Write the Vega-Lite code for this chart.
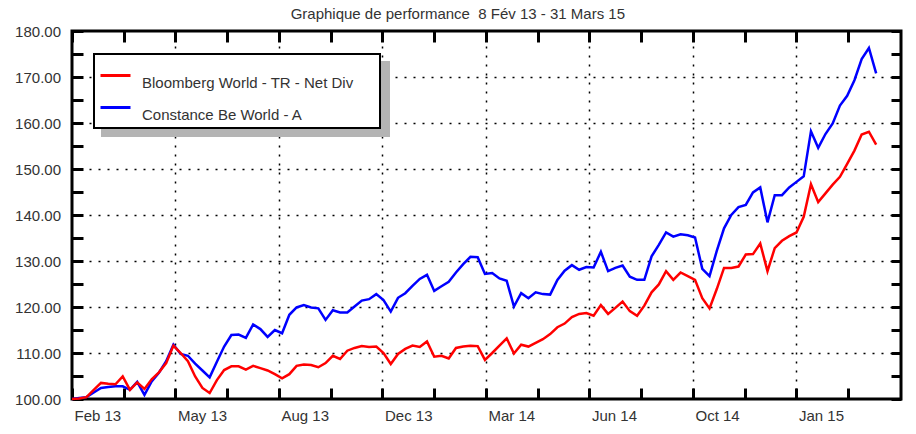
{
  "$schema": "https://vega.github.io/schema/vega-lite/v6.json",
  "width": 829,
  "height": 368,
  "padding": {"left": 14, "top": 7, "right": 5, "bottom": 5},
  "background": "white",
  "title": {
    "text": "Graphique de performance\u00a0 8 Fév 13 - 31 Mars 15",
    "font": "Liberation Sans",
    "fontSize": 15,
    "fontWeight": "normal",
    "color": "#333333",
    "anchor": "middle",
    "frame": "bounds",
    "offset": 2
  },
  "data": {"values": [
    {"date": "2013-02-08", "Bloomberg World - TR - Net Div": 100.0, "Constance Be World - A": 100.0},
    {"date": "2013-02-15", "Bloomberg World - TR - Net Div": 100.1, "Constance Be World - A": 100.2},
    {"date": "2013-02-22", "Bloomberg World - TR - Net Div": 100.4, "Constance Be World - A": 100.4},
    {"date": "2013-03-01", "Bloomberg World - TR - Net Div": 102.0, "Constance Be World - A": 101.4},
    {"date": "2013-03-08", "Bloomberg World - TR - Net Div": 103.5, "Constance Be World - A": 102.4},
    {"date": "2013-03-15", "Bloomberg World - TR - Net Div": 103.3, "Constance Be World - A": 102.6},
    {"date": "2013-03-22", "Bloomberg World - TR - Net Div": 103.2, "Constance Be World - A": 102.75},
    {"date": "2013-03-29", "Bloomberg World - TR - Net Div": 104.9, "Constance Be World - A": 102.75},
    {"date": "2013-04-05", "Bloomberg World - TR - Net Div": 102.0, "Constance Be World - A": 102.0},
    {"date": "2013-04-12", "Bloomberg World - TR - Net Div": 103.6, "Constance Be World - A": 103.7},
    {"date": "2013-04-19", "Bloomberg World - TR - Net Div": 102.2, "Constance Be World - A": 100.9},
    {"date": "2013-04-26", "Bloomberg World - TR - Net Div": 104.3, "Constance Be World - A": 103.8},
    {"date": "2013-05-03", "Bloomberg World - TR - Net Div": 105.8, "Constance Be World - A": 105.7},
    {"date": "2013-05-10", "Bloomberg World - TR - Net Div": 107.8, "Constance Be World - A": 108.2},
    {"date": "2013-05-17", "Bloomberg World - TR - Net Div": 111.6, "Constance Be World - A": 111.8},
    {"date": "2013-05-24", "Bloomberg World - TR - Net Div": 110.0, "Constance Be World - A": 109.8},
    {"date": "2013-05-31", "Bloomberg World - TR - Net Div": 108.2, "Constance Be World - A": 109.4},
    {"date": "2013-06-07", "Bloomberg World - TR - Net Div": 104.9, "Constance Be World - A": 107.7},
    {"date": "2013-06-14", "Bloomberg World - TR - Net Div": 102.4, "Constance Be World - A": 106.2},
    {"date": "2013-06-21", "Bloomberg World - TR - Net Div": 101.3, "Constance Be World - A": 104.7},
    {"date": "2013-06-28", "Bloomberg World - TR - Net Div": 104.1, "Constance Be World - A": 108.1},
    {"date": "2013-07-05", "Bloomberg World - TR - Net Div": 106.3, "Constance Be World - A": 111.4},
    {"date": "2013-07-12", "Bloomberg World - TR - Net Div": 107.1, "Constance Be World - A": 113.9},
    {"date": "2013-07-19", "Bloomberg World - TR - Net Div": 107.1, "Constance Be World - A": 114.0},
    {"date": "2013-07-26", "Bloomberg World - TR - Net Div": 106.4, "Constance Be World - A": 113.3},
    {"date": "2013-08-02", "Bloomberg World - TR - Net Div": 107.2, "Constance Be World - A": 116.2},
    {"date": "2013-08-09", "Bloomberg World - TR - Net Div": 106.7, "Constance Be World - A": 115.2},
    {"date": "2013-08-16", "Bloomberg World - TR - Net Div": 106.2, "Constance Be World - A": 113.5},
    {"date": "2013-08-23", "Bloomberg World - TR - Net Div": 105.4, "Constance Be World - A": 115.0},
    {"date": "2013-08-30", "Bloomberg World - TR - Net Div": 104.5, "Constance Be World - A": 114.3},
    {"date": "2013-09-06", "Bloomberg World - TR - Net Div": 105.4, "Constance Be World - A": 118.3},
    {"date": "2013-09-13", "Bloomberg World - TR - Net Div": 107.2, "Constance Be World - A": 119.9},
    {"date": "2013-09-20", "Bloomberg World - TR - Net Div": 107.5, "Constance Be World - A": 120.4},
    {"date": "2013-09-27", "Bloomberg World - TR - Net Div": 107.4, "Constance Be World - A": 119.9},
    {"date": "2013-10-04", "Bloomberg World - TR - Net Div": 106.9, "Constance Be World - A": 119.7},
    {"date": "2013-10-11", "Bloomberg World - TR - Net Div": 107.8, "Constance Be World - A": 117.2},
    {"date": "2013-10-18", "Bloomberg World - TR - Net Div": 109.4, "Constance Be World - A": 119.3},
    {"date": "2013-10-25", "Bloomberg World - TR - Net Div": 108.7, "Constance Be World - A": 118.8},
    {"date": "2013-11-01", "Bloomberg World - TR - Net Div": 110.5, "Constance Be World - A": 118.8},
    {"date": "2013-11-08", "Bloomberg World - TR - Net Div": 111.1, "Constance Be World - A": 120.1},
    {"date": "2013-11-15", "Bloomberg World - TR - Net Div": 111.5, "Constance Be World - A": 121.4},
    {"date": "2013-11-22", "Bloomberg World - TR - Net Div": 111.3, "Constance Be World - A": 121.7},
    {"date": "2013-11-29", "Bloomberg World - TR - Net Div": 111.4, "Constance Be World - A": 122.8},
    {"date": "2013-12-06", "Bloomberg World - TR - Net Div": 110.0, "Constance Be World - A": 121.5},
    {"date": "2013-12-13", "Bloomberg World - TR - Net Div": 107.6, "Constance Be World - A": 119.0},
    {"date": "2013-12-20", "Bloomberg World - TR - Net Div": 109.8, "Constance Be World - A": 122.0},
    {"date": "2013-12-27", "Bloomberg World - TR - Net Div": 110.9, "Constance Be World - A": 123.0},
    {"date": "2014-01-03", "Bloomberg World - TR - Net Div": 111.6, "Constance Be World - A": 124.6},
    {"date": "2014-01-10", "Bloomberg World - TR - Net Div": 111.3, "Constance Be World - A": 126.1},
    {"date": "2014-01-17", "Bloomberg World - TR - Net Div": 112.5, "Constance Be World - A": 127.0},
    {"date": "2014-01-24", "Bloomberg World - TR - Net Div": 109.2, "Constance Be World - A": 123.5},
    {"date": "2014-01-31", "Bloomberg World - TR - Net Div": 109.4, "Constance Be World - A": 124.5},
    {"date": "2014-02-07", "Bloomberg World - TR - Net Div": 108.8, "Constance Be World - A": 125.5},
    {"date": "2014-02-14", "Bloomberg World - TR - Net Div": 111.1, "Constance Be World - A": 127.5},
    {"date": "2014-02-21", "Bloomberg World - TR - Net Div": 111.4, "Constance Be World - A": 129.3},
    {"date": "2014-02-28", "Bloomberg World - TR - Net Div": 111.6, "Constance Be World - A": 130.9},
    {"date": "2014-03-07", "Bloomberg World - TR - Net Div": 111.5, "Constance Be World - A": 130.8},
    {"date": "2014-03-14", "Bloomberg World - TR - Net Div": 108.5, "Constance Be World - A": 127.2},
    {"date": "2014-03-21", "Bloomberg World - TR - Net Div": 110.0, "Constance Be World - A": 127.4},
    {"date": "2014-03-28", "Bloomberg World - TR - Net Div": 111.6, "Constance Be World - A": 126.2},
    {"date": "2014-04-04", "Bloomberg World - TR - Net Div": 113.2, "Constance Be World - A": 125.7},
    {"date": "2014-04-11", "Bloomberg World - TR - Net Div": 109.9, "Constance Be World - A": 120.1},
    {"date": "2014-04-18", "Bloomberg World - TR - Net Div": 111.8, "Constance Be World - A": 123.0},
    {"date": "2014-04-25", "Bloomberg World - TR - Net Div": 111.4, "Constance Be World - A": 121.9},
    {"date": "2014-05-02", "Bloomberg World - TR - Net Div": 112.2, "Constance Be World - A": 123.2},
    {"date": "2014-05-09", "Bloomberg World - TR - Net Div": 113.0, "Constance Be World - A": 122.8},
    {"date": "2014-05-16", "Bloomberg World - TR - Net Div": 114.1, "Constance Be World - A": 122.7},
    {"date": "2014-05-23", "Bloomberg World - TR - Net Div": 115.6, "Constance Be World - A": 125.9},
    {"date": "2014-05-30", "Bloomberg World - TR - Net Div": 116.4, "Constance Be World - A": 127.9},
    {"date": "2014-06-06", "Bloomberg World - TR - Net Div": 117.8, "Constance Be World - A": 129.1},
    {"date": "2014-06-13", "Bloomberg World - TR - Net Div": 118.5, "Constance Be World - A": 128.1},
    {"date": "2014-06-20", "Bloomberg World - TR - Net Div": 118.7, "Constance Be World - A": 128.7},
    {"date": "2014-06-27", "Bloomberg World - TR - Net Div": 118.1, "Constance Be World - A": 128.6},
    {"date": "2014-07-04", "Bloomberg World - TR - Net Div": 120.4, "Constance Be World - A": 132.0},
    {"date": "2014-07-11", "Bloomberg World - TR - Net Div": 118.5, "Constance Be World - A": 127.8},
    {"date": "2014-07-18", "Bloomberg World - TR - Net Div": 119.8, "Constance Be World - A": 128.5},
    {"date": "2014-07-25", "Bloomberg World - TR - Net Div": 121.2, "Constance Be World - A": 129.0},
    {"date": "2014-08-01", "Bloomberg World - TR - Net Div": 119.1, "Constance Be World - A": 126.6},
    {"date": "2014-08-08", "Bloomberg World - TR - Net Div": 118.1, "Constance Be World - A": 125.9},
    {"date": "2014-08-15", "Bloomberg World - TR - Net Div": 120.3, "Constance Be World - A": 125.9},
    {"date": "2014-08-22", "Bloomberg World - TR - Net Div": 123.2, "Constance Be World - A": 131.0},
    {"date": "2014-08-29", "Bloomberg World - TR - Net Div": 124.9, "Constance Be World - A": 133.5},
    {"date": "2014-09-05", "Bloomberg World - TR - Net Div": 127.8, "Constance Be World - A": 136.2},
    {"date": "2014-09-12", "Bloomberg World - TR - Net Div": 125.9, "Constance Be World - A": 135.3},
    {"date": "2014-09-19", "Bloomberg World - TR - Net Div": 127.5, "Constance Be World - A": 135.8},
    {"date": "2014-09-26", "Bloomberg World - TR - Net Div": 126.7, "Constance Be World - A": 135.6},
    {"date": "2014-10-03", "Bloomberg World - TR - Net Div": 125.9, "Constance Be World - A": 135.1},
    {"date": "2014-10-10", "Bloomberg World - TR - Net Div": 121.9, "Constance Be World - A": 128.3},
    {"date": "2014-10-17", "Bloomberg World - TR - Net Div": 119.7, "Constance Be World - A": 126.7},
    {"date": "2014-10-24", "Bloomberg World - TR - Net Div": 123.9, "Constance Be World - A": 132.2},
    {"date": "2014-10-31", "Bloomberg World - TR - Net Div": 128.5, "Constance Be World - A": 137.1},
    {"date": "2014-11-07", "Bloomberg World - TR - Net Div": 128.5, "Constance Be World - A": 140.0},
    {"date": "2014-11-14", "Bloomberg World - TR - Net Div": 128.8, "Constance Be World - A": 141.7},
    {"date": "2014-11-21", "Bloomberg World - TR - Net Div": 131.4, "Constance Be World - A": 142.2},
    {"date": "2014-11-28", "Bloomberg World - TR - Net Div": 131.5, "Constance Be World - A": 144.9},
    {"date": "2014-12-05", "Bloomberg World - TR - Net Div": 133.8, "Constance Be World - A": 146.0},
    {"date": "2014-12-12", "Bloomberg World - TR - Net Div": 127.8, "Constance Be World - A": 138.4},
    {"date": "2014-12-19", "Bloomberg World - TR - Net Div": 132.8, "Constance Be World - A": 144.3},
    {"date": "2014-12-26", "Bloomberg World - TR - Net Div": 134.4, "Constance Be World - A": 144.3},
    {"date": "2015-01-02", "Bloomberg World - TR - Net Div": 135.4, "Constance Be World - A": 146.0},
    {"date": "2015-01-09", "Bloomberg World - TR - Net Div": 136.2, "Constance Be World - A": 147.2},
    {"date": "2015-01-16", "Bloomberg World - TR - Net Div": 139.6, "Constance Be World - A": 148.4},
    {"date": "2015-01-23", "Bloomberg World - TR - Net Div": 146.7, "Constance Be World - A": 158.2},
    {"date": "2015-01-30", "Bloomberg World - TR - Net Div": 142.8, "Constance Be World - A": 154.6},
    {"date": "2015-02-06", "Bloomberg World - TR - Net Div": 144.7, "Constance Be World - A": 157.6},
    {"date": "2015-02-13", "Bloomberg World - TR - Net Div": 146.6, "Constance Be World - A": 159.9},
    {"date": "2015-02-20", "Bloomberg World - TR - Net Div": 148.3, "Constance Be World - A": 163.8},
    {"date": "2015-02-27", "Bloomberg World - TR - Net Div": 151.1, "Constance Be World - A": 165.9},
    {"date": "2015-03-06", "Bloomberg World - TR - Net Div": 154.0, "Constance Be World - A": 169.3},
    {"date": "2015-03-13", "Bloomberg World - TR - Net Div": 157.5, "Constance Be World - A": 173.9},
    {"date": "2015-03-20", "Bloomberg World - TR - Net Div": 158.1, "Constance Be World - A": 176.3},
    {"date": "2015-03-27", "Bloomberg World - TR - Net Div": 155.3, "Constance Be World - A": 170.8}
  ]},
  "transform": [
    {"fold": ["Constance Be World - A", "Bloomberg World - TR - Net Div"], "as": ["series", "value"]}
  ],
  "layer": [
    {
      "mark": {"type": "line", "opacity": 0},
      "encoding": {
        "x": {
          "field": "date", "type": "temporal",
          "axis": {
            "orient": "top",
            "labels": false,
            "ticks": false,
            "grid": true,
            "gridWidth": 1.5,
            "gridDash": [2, 7],
            "values": [
              {"year": 2013, "month": 5, "date": 19, "utc": true},
              {"year": 2013, "month": 8, "date": 27, "utc": true},
              {"year": 2013, "month": 12, "date": 5, "utc": true},
              {"year": 2014, "month": 3, "date": 15, "utc": true},
              {"year": 2014, "month": 6, "date": 23, "utc": true},
              {"year": 2014, "month": 10, "date": 1, "utc": true},
              {"year": 2015, "month": 1, "date": 9, "utc": true}
            ]
          }
        },
        "y": {
          "field": "value", "type": "quantitative",
          "axis": {
            "orient": "right",
            "labels": false,
            "ticks": false,
            "grid": true,
            "gridWidth": 1.5,
            "gridDash": [2, 7],
            "values": [110, 120, 130, 140, 150, 160, 170]
          }
        }
      }
    },
    {
      "mark": {"type": "line", "strokeWidth": 2.5},
      "encoding": {
        "x": {
          "field": "date", "type": "temporal",
          "scale": {"type": "utc", "nice": false, "domain": [{"year": 2013, "month": 2, "date": 8, "utc": true}, {"year": 2015, "month": 4, "date": 20, "utc": true}]},
          "axis": {
            "orient": "bottom",
            "ticks": false,
            "values": [
              {"year": 2013, "month": 2, "date": 8, "utc": true},
              {"year": 2013, "month": 3, "date": 30, "utc": true},
              {"year": 2013, "month": 5, "date": 19, "utc": true},
              {"year": 2013, "month": 7, "date": 8, "utc": true},
              {"year": 2013, "month": 8, "date": 27, "utc": true},
              {"year": 2013, "month": 10, "date": 16, "utc": true},
              {"year": 2013, "month": 12, "date": 5, "utc": true},
              {"year": 2014, "month": 1, "date": 24, "utc": true},
              {"year": 2014, "month": 3, "date": 15, "utc": true},
              {"year": 2014, "month": 5, "date": 4, "utc": true},
              {"year": 2014, "month": 6, "date": 23, "utc": true},
              {"year": 2014, "month": 8, "date": 12, "utc": true},
              {"year": 2014, "month": 10, "date": 1, "utc": true},
              {"year": 2014, "month": 11, "date": 20, "utc": true},
              {"year": 2015, "month": 1, "date": 9, "utc": true},
              {"year": 2015, "month": 2, "date": 28, "utc": true}
            ],
            "labelExpr": "round((datum.value - 1360281600000) / 86400000) % 100 == 0 ? utcFormat(datum.value, '%b %y') : ''",
            "labelAlign": "left",
            "labelBaseline": "top",
            "labelPadding": 9,
            "labelOffset": 2,
            "grid": true,
            "gridWidth": 3,
            "gridDash": [11, 2000]
          }
        },
        "y": {
          "field": "value", "type": "quantitative",
          "scale": {"domain": [100, 180], "nice": false, "zero": false},
          "axis": {
            "orient": "left",
            "ticks": false,
            "values": [100, 105, 110, 115, 120, 125, 130, 135, 140, 145, 150, 155, 160, 165, 170, 175, 180],
            "format": ".2f",
            "labelExpr": "datum.value % 10 == 0 ? datum.label : ''",
            "labelPadding": 11.5,
            "grid": true,
            "gridWidth": 3,
            "gridDash": [11, 2000]
          }
        },
        "color": {
          "field": "series", "type": "nominal",
          "scale": {"domain": ["Bloomberg World - TR - Net Div", "Constance Be World - A"], "range": ["#ff0000", "#0000ff"]},
          "legend": {
            "orient": "none",
            "legendX": 22,
            "legendY": 23,
            "zindex": 2,
            "title": " ",
            "titleOrient": "right",
            "titlePadding": 22,
            "titleFontSize": 15,
            "fillColor": "white",
            "strokeColor": "black",
            "padding": 5,
            "symbolType": "stroke",
            "symbolSize": 900,
            "symbolStrokeWidth": 3,
            "labelFont": "Liberation Sans",
            "labelFontSize": 15,
            "labelColor": "#333333",
            "labelOffset": 10,
            "rowPadding": -5,
            "labelBaseline": "top",
            "labelLimit": 400
          }
        }
      }
    },
    {
      "mark": {"type": "line", "opacity": 0},
      "encoding": {
        "x": {
          "field": "date", "type": "temporal",
          "axis": {
            "orient": "top",
            "labels": false,
            "ticks": false,
            "grid": true,
            "gridWidth": 3,
            "gridDash": [11, 2000],
            "values": [
              {"year": 2013, "month": 2, "date": 8, "utc": true},
              {"year": 2013, "month": 3, "date": 30, "utc": true},
              {"year": 2013, "month": 5, "date": 19, "utc": true},
              {"year": 2013, "month": 7, "date": 8, "utc": true},
              {"year": 2013, "month": 8, "date": 27, "utc": true},
              {"year": 2013, "month": 10, "date": 16, "utc": true},
              {"year": 2013, "month": 12, "date": 5, "utc": true},
              {"year": 2014, "month": 1, "date": 24, "utc": true},
              {"year": 2014, "month": 3, "date": 15, "utc": true},
              {"year": 2014, "month": 5, "date": 4, "utc": true},
              {"year": 2014, "month": 6, "date": 23, "utc": true},
              {"year": 2014, "month": 8, "date": 12, "utc": true},
              {"year": 2014, "month": 10, "date": 1, "utc": true},
              {"year": 2014, "month": 11, "date": 20, "utc": true},
              {"year": 2015, "month": 1, "date": 9, "utc": true},
              {"year": 2015, "month": 2, "date": 28, "utc": true}
            ]
          }
        },
        "y": {
          "field": "value", "type": "quantitative",
          "axis": {
            "orient": "right",
            "labels": false,
            "ticks": false,
            "grid": true,
            "gridWidth": 3,
            "gridDash": [10, 2000],
            "values": [100, 105, 110, 115, 120, 125, 130, 135, 140, 145, 150, 155, 160, 165, 170, 175, 180]
          }
        },
        "strokeDash": {
          "field": "series", "type": "nominal",
          "scale": {"domain": ["Constance Be World - A", "Bloomberg World - TR - Net Div"], "range": [[1, 0], [1, 0]]},
          "legend": {
            "orient": "none",
            "legendX": 30,
            "legendY": 31,
            "zindex": 1,
            "title": " ",
            "titleOrient": "right",
            "titlePadding": 234,
            "titleFontSize": 15,
            "titleColor": "#b4b4b4",
            "fillColor": "#b4b4b4",
            "strokeColor": "#b4b4b4",
            "padding": 5,
            "symbolType": "stroke",
            "symbolSize": 900,
            "symbolStrokeWidth": 3,
            "symbolOpacity": 0,
            "labelExpr": "''",
            "labelFont": "Liberation Sans",
            "labelFontSize": 15,
            "labelColor": "#b4b4b4",
            "labelOffset": 10,
            "rowPadding": -5,
            "labelBaseline": "top",
            "labelLimit": 400
          }
        }
      }
    }
  ],
  "resolve": {"axis": {"x": "independent", "y": "independent"}},
  "config": {
    "view": {"stroke": "black", "strokeWidth": 3},
    "legend": {"strokeWidth": 2},
    "axis": {
      "domain": false,
      "title": null,
      "labelFont": "Liberation Sans",
      "labelFontSize": 15,
      "labelColor": "#333333",
      "labelOverlap": false,
      "labelFlush": false,
      "labelBound": false,
      "gridColor": "black",
      "gridOpacity": 1,
      "gridCap": "butt"
    }
  }
}
